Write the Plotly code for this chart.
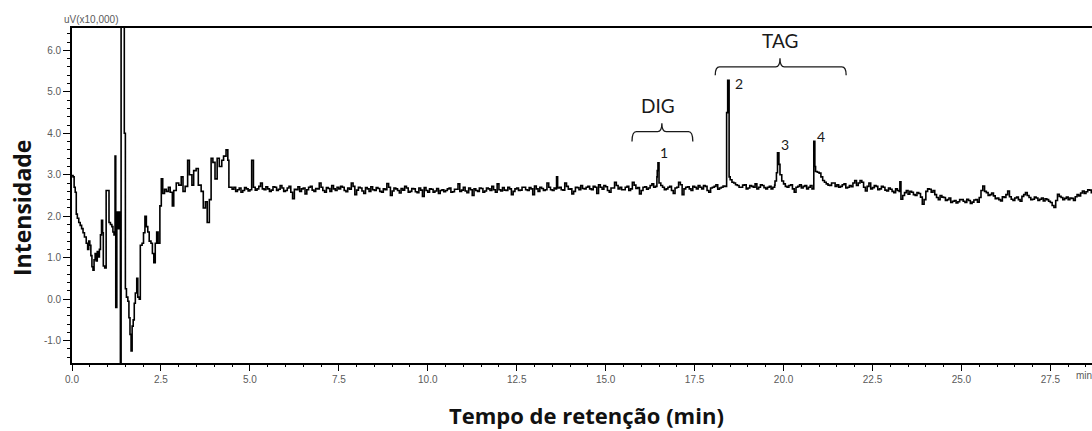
import numpy as np
import plotly.graph_objects as go

# Start of the run: solvent front and unstable region (min, uV x10,000)
t_front = [0.00, 0.03, 0.06, 0.09, 0.12, 0.15, 0.19, 0.23, 0.27, 0.31,
           0.35, 0.40, 0.44, 0.47, 0.50, 0.53, 0.56, 0.59, 0.62, 0.65,
           0.68, 0.71, 0.74, 0.77, 0.80, 0.83, 0.86, 0.88, 0.92, 0.96,
           1.01, 1.04, 1.08, 1.12, 1.15, 1.18, 1.21, 1.23, 1.26, 1.30,
           1.33, 1.36, 1.38, 1.47, 1.50, 1.53, 1.57, 1.60, 1.63, 1.66,
           1.69, 1.72, 1.75, 1.78, 1.82, 1.85, 1.89, 1.92, 1.97, 2.01,
           2.05, 2.09, 2.13, 2.17, 2.22, 2.26, 2.30, 2.34, 2.38, 2.42,
           2.47, 2.51, 2.55, 2.60, 2.65, 2.71, 2.76, 2.82, 2.86, 2.93,
           3.00, 3.07, 3.12, 3.18, 3.25, 3.30, 3.37, 3.42, 3.49, 3.55,
           3.63, 3.69, 3.75, 3.80, 3.86, 3.91, 3.96, 4.02, 4.08, 4.14,
           4.21, 4.26, 4.33, 4.38, 4.41]
uv_front = [2.98, 2.95, 2.70, 2.58, 2.05, 1.95, 1.85, 1.78, 1.70, 1.60,
            1.50, 1.35, 1.20, 1.40, 1.30, 1.05, 0.78, 0.70, 0.95, 1.10,
            0.92, 1.15, 1.02, 1.20, 1.55, 1.90, 1.60, 0.80, 0.75, 2.62,
            2.62, 1.85, 1.80, 1.75, 1.62, 1.55, 3.45, -0.20, 2.10, 1.70,
            2.10, -1.70, 7.00, 4.00, 0.25, 0.05, -0.05, -0.45, -0.85, -1.25,
            -0.65, -0.50, -0.10, 0.15, 0.50, 0.05, 0.00, 1.30, 1.35, 1.60,
            2.00, 1.75, 1.62, 1.40, 1.35, 1.10, 0.88, 1.35, 1.62, 1.35,
            2.25, 2.90, 2.55, 2.65, 2.60, 2.70, 2.58, 2.25, 2.62, 2.80,
            2.75, 2.95, 2.60, 2.72, 3.35, 3.00, 2.75, 3.10, 3.15, 2.75,
            2.60, 2.20, 2.35, 1.85, 2.40, 3.40, 3.30, 2.90, 3.40, 3.20,
            3.35, 3.45, 3.60, 3.35, 2.70]

# Baseline sampled every 0.1 min from 4.5 min to the end of the window
baseline_start = 4.5
baseline_step = 0.1
uv_baseline = [
    2.65, 2.60, 2.68, 2.62, 2.66, 2.64, 2.70, 2.66, 2.80, 2.64,
    2.66, 2.63, 2.70, 2.65, 2.68, 2.62, 2.72, 2.42, 2.64, 2.60,
    2.68, 2.64, 2.72, 2.60, 2.66, 2.70, 2.58, 2.67, 2.74, 2.62,
    2.66, 2.70, 2.59, 2.65, 2.72, 2.63, 2.68, 2.55, 2.66, 2.71,
    2.62, 2.67, 2.58, 2.64, 2.70, 2.61, 2.66, 2.56, 2.63, 2.68,
    2.60, 2.66, 2.57, 2.63, 2.69, 2.58, 2.65, 2.61, 2.55, 2.64,
    2.62, 2.68, 2.59, 2.65, 2.60, 2.70, 2.57, 2.64, 2.66, 2.60,
    2.67, 2.61, 2.66, 2.72, 2.58, 2.64, 2.69, 2.62, 2.66, 2.60,
    2.68, 2.63, 2.70, 2.62, 2.66, 2.73, 2.60, 2.67, 2.64, 2.70,
    2.62, 2.66, 2.70, 2.63, 2.72, 2.66, 2.60, 2.69, 2.74, 2.66,
    2.72, 2.64, 2.70, 2.76, 2.65, 2.71, 2.58, 2.68, 2.74, 2.70,
    2.64, 2.72, 2.66, 2.75, 2.69, 2.62, 2.71, 2.68, 2.78, 2.72,
    2.80, 2.70, 2.66, 2.72, 2.55, 2.70, 2.76, 2.66, 2.71, 2.62,
    2.70, 2.74, 2.66, 2.72, 2.58, 2.70, 2.76, 2.68, 2.73, 4.50,
    2.88, 2.80, 2.74, 2.70, 2.76, 2.68, 2.72, 2.78, 2.70, 2.74,
    2.66, 2.72, 2.70, 3.05, 3.00, 2.78, 2.70, 2.76, 2.58, 2.72,
    2.68, 2.74, 2.70, 2.66, 3.08, 3.04, 2.86, 2.78, 2.74, 2.80,
    2.76, 2.72, 2.78, 2.70, 2.71, 2.86, 2.80, 2.82, 2.61, 2.80,
    2.69, 2.72, 2.66, 2.70, 2.61, 2.65, 2.57, 2.62, 2.41, 2.57,
    2.53, 2.58, 2.50, 2.55, 2.29, 2.60, 2.65, 2.62, 2.45, 2.50,
    2.45, 2.40, 2.33, 2.38, 2.35, 2.40, 2.33, 2.38, 2.34, 2.40,
    2.45, 2.73, 2.57, 2.52, 2.49, 2.44, 2.37, 2.45, 2.61, 2.41,
    2.44, 2.40, 2.48, 2.57, 2.45, 2.41, 2.44, 2.41, 2.37, 2.40,
    2.33, 2.21, 2.53, 2.45, 2.43, 2.40, 2.43, 2.47, 2.49, 2.61,
    2.59, 2.63, 2.60,
]
# Half-step samples (0.05 min after each baseline sample)
uv_baseline_mid = [
    2.70, 2.64, 2.58, 2.69, 2.61, 3.35, 2.63, 2.72, 2.66, 2.71,
    2.60, 2.71, 2.62, 2.74, 2.60, 2.68, 2.58, 2.65, 2.71, 2.66,
    2.54, 2.70, 2.63, 2.67, 2.80, 2.62, 2.69, 2.60, 2.66, 2.70,
    2.72, 2.62, 2.68, 2.80, 2.52, 2.70, 2.61, 2.69, 2.60, 2.64,
    2.69, 2.60, 2.66, 2.79, 2.50, 2.68, 2.62, 2.67, 2.72, 2.58,
    2.67, 2.59, 2.68, 2.48, 2.62, 2.66, 2.58, 2.67, 2.62, 2.59,
    2.66, 2.58, 2.65, 2.78, 2.63, 2.61, 2.68, 2.50, 2.62, 2.68,
    2.58, 2.68, 2.62, 2.64, 2.78, 2.61, 2.63, 2.70, 2.52, 2.66,
    2.62, 2.70, 2.64, 2.69, 2.52, 2.66, 2.70, 2.62, 2.80, 2.64,
    2.68, 2.68, 2.64, 2.80, 2.65, 2.54, 2.70, 2.64, 2.67, 2.70,
    2.66, 2.72, 2.55, 2.70, 2.74, 2.62, 2.68, 2.82, 2.66, 2.64,
    2.70, 2.62, 2.82, 2.67, 2.54, 2.70, 2.65, 2.74, 2.70, 3.10,
    2.74, 2.64, 2.70, 2.62, 2.68, 2.82, 2.52, 2.70, 2.66, 2.72,
    2.66, 2.70, 2.74, 2.62, 2.68, 2.72, 2.65, 2.70, 2.72, 5.28,
    2.82, 2.76, 2.70, 2.75, 2.66, 2.74, 2.70, 2.66, 2.76, 2.69,
    2.70, 2.66, 2.75, 3.53, 2.85, 2.72, 2.74, 2.66, 2.70, 2.76,
    2.72, 2.66, 2.74, 3.81, 3.06, 2.95, 2.82, 2.75, 2.80, 2.72,
    2.70, 2.76, 2.68, 2.74, 2.80, 2.74, 2.86, 2.70, 2.72, 2.66,
    2.74, 2.64, 2.72, 2.63, 2.68, 2.60, 2.66, 2.60, 2.50, 2.62,
    2.60, 2.52, 2.57, 2.46, 2.40, 2.66, 2.58, 2.52, 2.40, 2.46,
    2.38, 2.44, 2.36, 2.32, 2.40, 2.36, 2.41, 2.31, 2.39, 2.34,
    2.62, 2.60, 2.50, 2.56, 2.42, 2.40, 2.47, 2.52, 2.47, 2.38,
    2.46, 2.36, 2.52, 2.50, 2.40, 2.46, 2.38, 2.44, 2.42, 2.36,
    2.26, 2.38, 2.48, 2.40, 2.46, 2.44, 2.38, 2.52, 2.56, 2.55,
    2.64, 2.57, 2.62,
]

# Narrow peaks and spikes riding on the baseline
t_peaks = [5.05, 13.62, 16.44, 16.47, 18.43, 18.47, 19.76, 19.83, 19.87,
           19.95, 20.85, 20.88, 23.27]
uv_peaks = [3.35, 2.95, 2.95, 3.29, 5.28, 2.95, 2.85, 3.53, 3.25,
            2.85, 3.81, 3.20, 2.83]

# Peak numbering and group labels
peak_names = ["1", "2", "3", "4"]
peak_name_t = [16.64, 18.75, 20.04, 21.05]
peak_name_uv = [3.53, 5.21, 3.74, 3.93]

x_major = [0.0, 2.5, 5.0, 7.5, 10.0, 12.5, 15.0, 17.5, 20.0, 22.5, 25.0, 27.5]
x_major_text = ["0.0", "2.5", "5.0", "7.5", "10.0", "12.5", "15.0", "17.5",
                "20.0", "22.5", "25.0", "27.5"]
y_major = [-1.0, 0.0, 1.0, 2.0, 3.0, 4.0, 5.0, 6.0]
y_major_text = ["-1.0", "0.0", "1.0", "2.0", "3.0", "4.0", "5.0", "6.0"]

# assemble the chromatogram
t_base = np.round(baseline_start + baseline_step * np.arange(len(uv_baseline)), 2)
t_mid = np.round(t_base + baseline_step / 2, 3)
t_all = np.concatenate([t_front, t_base, t_mid, t_peaks])
uv_all = np.concatenate([uv_front, uv_baseline, uv_baseline_mid, uv_peaks])
order = np.argsort(t_all, kind="stable")
t_all = t_all[order]
uv_all = uv_all[order]

fig = go.Figure()
fig.add_trace(go.Scatter(
    x=t_all, y=uv_all, mode="lines",
    line=dict(color="black", width=1.6, shape="hv"),
    hoverinfo="skip", showlegend=False,
))

tick_font = dict(family="Liberation Sans Narrow, Arial Narrow, sans-serif",
                 size=10, color="#5a5a5a")


def bracket(x0, x1, xc, y_bar, y_end, y_tip, dx):
    """Curly bracket path in data coordinates."""
    return (f"M {x0},{y_end} Q {x0},{y_bar} {x0 + dx},{y_bar} "
            f"L {xc - dx},{y_bar} Q {xc},{y_bar} {xc},{y_tip} "
            f"Q {xc},{y_bar} {xc + dx},{y_bar} "
            f"L {x1 - dx},{y_bar} Q {x1},{y_bar} {x1},{y_end}")


fig.add_shape(type="path", xref="x", yref="y",
              path=bracket(15.74, 17.45, 16.58, 4.04, 3.80, 4.24, 0.12),
              line=dict(color="#1a1a1a", width=1.3))
fig.add_shape(type="path", xref="x", yref="y",
              path=bracket(18.08, 21.76, 19.90, 5.60, 5.40, 5.81, 0.12),
              line=dict(color="#1a1a1a", width=1.3))

label_font = dict(family="Lato, Noto Sans, sans-serif", size=19, color="#1a1a1a")
fig.add_annotation(x=16.47, y=4.68, xref="x", yref="y", text="DIG",
                   showarrow=False, font=label_font)
fig.add_annotation(x=19.90, y=6.25, xref="x", yref="y", text="TAG",
                   showarrow=False, font=label_font)
for name, tx, ty in zip(peak_names, peak_name_t, peak_name_uv):
    fig.add_annotation(x=tx, y=ty, xref="x", yref="y", text=name,
                       showarrow=False,
                       font=dict(family="Lato, Noto Sans, sans-serif",
                                 size=14, color="#1a1a1a"))

# axis titles and unit labels
fig.add_annotation(x=(586 - 72) / 1020, y=(363 - 415) / 335, xref="paper",
                   yref="paper", text="<b>Tempo de retenção (min)</b>",
                   showarrow=False, xanchor="center", yanchor="middle",
                   font=dict(family="Open Sans, sans-serif", size=22,
                             color="#111111"))
fig.add_annotation(x=(22 - 72) / 1020, y=(363 - 208) / 335, xref="paper",
                   yref="paper", text="<b>Intensidade</b>", textangle=-90,
                   showarrow=False, xanchor="center", yanchor="middle",
                   font=dict(family="Open Sans, sans-serif", size=23,
                             color="#111111"))
fig.add_annotation(x=(91 - 72) / 1020, y=(363 - 20) / 335, xref="paper",
                   yref="paper", text="uV(x10,000)", showarrow=False,
                   xanchor="center", yanchor="middle", font=tick_font)
fig.add_annotation(x=(1074 - 72) / 1020, y=(363 - 375) / 335, xref="paper",
                   yref="paper", text="min", showarrow=False,
                   xanchor="left", yanchor="middle", font=tick_font)

fig.update_xaxes(
    range=[0, 28.67], showgrid=False, zeroline=False,
    showline=True, linecolor="black", linewidth=1.6, mirror=True,
    tickmode="array", tickvals=x_major, ticktext=x_major_text,
    ticks="outside", ticklen=6, tickwidth=1.2, tickcolor="black",
    tickfont=tick_font,
    minor=dict(tickmode="linear", tick0=0, dtick=0.5, ticks="outside",
               ticklen=2.5, tickwidth=1, tickcolor="black", showgrid=False),
)
fig.update_yaxes(
    range=[-1.54, 6.54], showgrid=False, zeroline=False,
    showline=True, linecolor="black", linewidth=1.6,
    tickmode="array", tickvals=y_major, ticktext=y_major_text,
    ticks="outside", ticklen=7, tickwidth=1.2, tickcolor="black",
    tickfont=tick_font,
    minor=dict(tickmode="linear", tick0=0, dtick=0.2, ticks="outside",
               ticklen=3.5, tickwidth=1, tickcolor="black", showgrid=False),
)

fig.update_layout(
    width=1092, height=431,
    margin=dict(l=72, r=0, t=28, b=68),
    paper_bgcolor="white", plot_bgcolor="white",
    showlegend=False,
)

fig.write_html("out.html")
